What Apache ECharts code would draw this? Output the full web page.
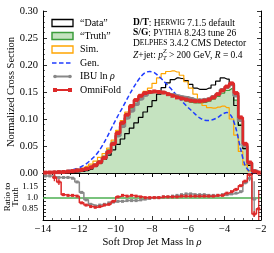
<!DOCTYPE html>
<html><head><meta charset="utf-8">
<script src="https://cdn.jsdelivr.net/npm/echarts@6/dist/echarts.min.js"></script>
<style>html,body{margin:0;padding:0;background:#fff}#c{width:274px;height:253px}</style>
</head><body><div id="c"></div>
<script>
// bin centres of ln rho (bin width 0.25)
const binCenters = [-13.875,-13.625,-13.375,-13.125,-12.875,-12.625,-12.375,-12.125,-11.875,-11.625,-11.375,-11.125,-10.875,-10.625,-10.375,-10.125,-9.875,-9.625,-9.375,-9.125,-8.875,-8.625,-8.375,-8.125,-7.875,-7.625,-7.375,-7.125,-6.875,-6.625,-6.375,-6.125,-5.875,-5.625,-5.375,-5.125,-4.875,-4.625,-4.375,-4.125,-3.875,-3.625,-3.375,-3.125,-2.875,-2.625,-2.375,-2.125];
const truthVals = [0.0005,0.0007,0.0010,0.0013,0.0018,0.0025,0.0034,0.0046,0.0062,0.0085,0.0118,0.0163,0.0225,0.031,0.043,0.057,0.073,0.090,0.106,0.120,0.132,0.141,0.147,0.150,0.151,0.150,0.148,0.145,0.142,0.139,0.136,0.133,0.131,0.130,0.130,0.131,0.133,0.137,0.142,0.148,0.153,0.156,0.135,0.090,0.045,0.015,0.004,0.001];
const dataVals = [0.0003,0.0004,0.0005,0.0007,0.0009,0.0012,0.0016,0.0022,0.003,0.0045,0.007,0.012,0.018,0.025,0.033,0.043,0.053,0.063,0.073,0.083,0.093,0.103,0.113,0.123,0.134,0.146,0.158,0.167,0.173,0.176,0.175,0.171,0.164,0.157,0.155,0.155,0.157,0.163,0.170,0.176,0.174,0.163,0.125,0.088,0.045,0.014,0.003,0.0008];
const simVals = [0.0008,0.001,0.0014,0.0019,0.0026,0.0036,0.005,0.0068,0.0092,0.0124,0.0165,0.022,0.029,0.036,0.046,0.061,0.079,0.097,0.113,0.126,0.137,0.145,0.151,0.157,0.166,0.176,0.184,0.188,0.189,0.187,0.181,0.169,0.157,0.146,0.133,0.125,0.121,0.120,0.122,0.124,0.121,0.100,0.070,0.040,0.015,0.004,0.001,0.0003];
const genVals = [0.0005,0.0008,0.0012,0.0018,0.0027,0.004,0.0058,0.0083,0.012,0.017,0.024,0.032,0.043,0.057,0.073,0.090,0.106,0.121,0.137,0.152,0.166,0.178,0.186,0.188,0.186,0.179,0.171,0.162,0.153,0.143,0.134,0.125,0.117,0.109,0.102,0.098,0.097,0.099,0.103,0.109,0.112,0.105,0.082,0.045,0.014,0.003,0.0008,0.0002];
const ibuVals = [0.0006,0.0009,0.0013,0.0017,0.0023,0.0032,0.0043,0.0056,0.0066,0.0082,0.0107,0.0145,0.0203,0.028,0.040,0.054,0.069,0.086,0.102,0.115,0.127,0.137,0.144,0.149,0.151,0.150,0.149,0.146,0.145,0.143,0.141,0.140,0.138,0.135,0.135,0.136,0.137,0.141,0.146,0.154,0.159,0.164,0.143,0.097,0.050,0.018,0.004,0.001];
const omniVals = [0.0007,0.0009,0.0012,0.0016,0.0019,0.0026,0.0035,0.0047,0.0058,0.0077,0.0104,0.0142,0.0198,0.028,0.039,0.054,0.074,0.093,0.108,0.124,0.135,0.143,0.148,0.150,0.151,0.150,0.149,0.146,0.143,0.140,0.138,0.136,0.134,0.133,0.133,0.134,0.136,0.140,0.146,0.153,0.160,0.166,0.148,0.103,0.054,0.0195,0.0031,0.0007];
// ratio panel
const ratioOmni = [null,null,1.27,1.21,1.04,1.03,1.03,1.02,0.93,0.90,0.88,0.87,0.88,0.90,0.91,0.95,1.01,1.03,1.02,1.03,1.02,1.01,1.00,1.00,1.00,1.00,1.01,1.01,1.01,1.01,1.02,1.02,1.02,1.02,1.02,1.02,1.02,1.02,1.03,1.03,1.06,1.08,1.11,1.16,1.22,1.31,0.78,0.85];
const ratioOmniErr = [0,0,0.05,0.04,0.02,0.012,0.01,0.008,0.006,0.005,0.004,0.004,0.003,0.003,0.003,0.003,0.002,0.002,0.002,0.002,0.002,0.002,0.002,0.002,0.002,0.002,0.002,0.002,0.002,0.002,0.002,0.002,0.002,0.002,0.002,0.002,0.002,0.002,0.002,0.003,0.004,0.005,0.006,0.008,0.012,0.03,0.04,0.25];
const ratioIbu = [1.29,1.29,1.28,1.27,1.27,1.27,1.26,1.21,1.07,0.97,0.91,0.89,0.90,0.91,0.93,0.94,0.95,0.95,0.96,0.96,0.96,0.97,0.98,0.99,1.00,1.00,1.01,1.01,1.02,1.03,1.04,1.05,1.05,1.04,1.04,1.04,1.03,1.03,1.03,1.04,1.04,1.05,1.06,1.08,1.20,1.26,0.98,null];
const ratioIbuErr = [0.01,0.01,0.01,0.01,0.01,0.01,0.01,0.01,0.006,0.005,0.004,0.004,0.003,0.003,0.003,0.003,0.002,0.002,0.002,0.002,0.002,0.002,0.002,0.002,0.002,0.002,0.002,0.002,0.002,0.002,0.002,0.002,0.002,0.002,0.002,0.002,0.002,0.002,0.002,0.003,0.004,0.005,0.006,0.008,0.02,0.04,0.24,0];
const truthErr = [0.04,0.04,0.035,0.03,0.03,0.025,0.02,0.015,0.012,0.01,0.008,0.006,0.005,0.004,0.003,0.003,0.002,0.002,0.002,0.002,0.002,0.002,0.002,0.002,0.002,0.002,0.002,0.002,0.002,0.002,0.002,0.002,0.002,0.002,0.002,0.002,0.002,0.002,0.002,0.002,0.002,0.003,0.003,0.004,0.008,0.03,0.07,0.13];
const xTicks = [-14,-12,-10,-8,-6,-4,-2];
const ratioTickLabels = ['0.85','1.0','1.15'];

const SERIF = '"Liberation Serif", "DejaVu Serif", serif';
const C = {data:'#000', truthLine:'#3c9d3c', truthFill:'#c5e3c0', sim:'#ffa500', gen:'#1f3cff', ibu:'#888888', omni:'#dd2a2a'};
const pairs = (vals) => binCenters.map((x,i)=> [x, vals[i]==null ? '-' : vals[i]]);
const triples = (vals, errs) => binCenters.map((x,i)=> [x, vals[i]==null ? '-' : vals[i], errs[i]]);

function errBar(color){
  return function(params, api){
    const v = api.value(1); if (isNaN(v)) return null;
    const e = api.value(2); const x = api.value(0);
    const p1 = api.coord([x, v+e]), p2 = api.coord([x, v-e]);
    return {type:'line', shape:{x1:p1[0],y1:p1[1],x2:p2[0],y2:p2[1]}, style:{stroke:color, lineWidth:1.3}};
  };
}

const axisLine = {show:true, lineStyle:{color:'#000', width:1}};
const tickIn = {show:true, inside:true, length:4, lineStyle:{color:'#000', width:0.8}};
const minorIn = (n)=>({show:true, splitNumber:n, length:2, lineStyle:{color:'#000', width:0.6}});
const fmtMinus = v => String(v).replace('-', '\u2212');

const chart = echarts.init(document.getElementById('c'), null, {renderer:'canvas'});
const option = {
  animation:false,
  backgroundColor:'#fff',
  grid:[{left:43, top:11, width:218, height:162},{left:43, top:173, width:218, height:47}],
  xAxis:[
    {gridIndex:0, type:'value', min:-14, max:-2, interval:2, position:'bottom', axisLine, axisTick:tickIn, minorTick:minorIn(4), axisLabel:{show:false}, splitLine:{show:false}},
    {gridIndex:0, type:'value', min:-14, max:-2, interval:2, position:'top', axisLine, axisTick:tickIn, minorTick:minorIn(4), axisLabel:{show:false}, splitLine:{show:false}},
    {gridIndex:1, type:'value', min:-14, max:-2, interval:2, position:'bottom', axisLine, axisTick:tickIn, minorTick:minorIn(4),
      axisLabel:{show:true, margin:4, color:'#000', fontFamily:SERIF, fontSize:10.5, formatter: v => xTicks.includes(v) ? fmtMinus(v) : ''}, splitLine:{show:false}},
    {gridIndex:1, type:'value', min:-14, max:-2, interval:2, position:'top', axisLine:{show:true, lineStyle:{color:'#000', width:1.2}}, axisTick:tickIn, minorTick:minorIn(4), axisLabel:{show:false}, splitLine:{show:false}}
  ],
  yAxis:[
    {gridIndex:0, type:'value', min:0, max:0.30, interval:0.05, position:'left', axisLine, axisTick:tickIn, minorTick:minorIn(5),
      axisLabel:{show:true, margin:5, color:'#000', fontFamily:SERIF, fontSize:10.5, formatter: v => v.toFixed(2)}, splitLine:{show:false}},
    {gridIndex:0, type:'value', min:0, max:0.30, interval:0.05, position:'right', axisLine, axisTick:tickIn, minorTick:minorIn(5), axisLabel:{show:false}, splitLine:{show:false}},
    {gridIndex:1, type:'value', min:0.7, max:1.33, interval:0.05, position:'left', axisLine, axisTick:{show:true, inside:true, length:3, lineStyle:{color:'#000', width:0.8}},
      axisLabel:{show:true, margin:5, color:'#000', fontFamily:SERIF, fontSize:9, showMaxLabel:false, showMinLabel:false,
        formatter: v => { const r = (Math.round(v*100)/100); const s = r===1 ? '1.0' : String(r); return ratioTickLabels.includes(s) ? s : ''; }}, splitLine:{show:false}},
    {gridIndex:1, type:'value', min:0.7, max:1.33, interval:0.05, position:'right', axisLine, axisTick:{show:true, inside:true, length:3, lineStyle:{color:'#000', width:0.8}}, axisLabel:{show:false}, splitLine:{show:false}}
  ],
  series:[
    {name:'Truth', type:'line', xAxisIndex:0, yAxisIndex:0, data:pairs(truthVals), step:'middle', symbol:'none', lineStyle:{color:C.truthLine, width:1.3}, areaStyle:{color:C.truthFill, opacity:1}, z:1},
    {name:'Data', type:'line', xAxisIndex:0, yAxisIndex:0, data:pairs(dataVals), step:'middle', symbol:'none', lineStyle:{color:C.data, width:1.2}, z:2},
    {name:'Sim.', type:'line', xAxisIndex:0, yAxisIndex:0, data:pairs(simVals), step:'middle', symbol:'none', lineStyle:{color:C.sim, width:1.2}, z:3},
    {name:'Gen.', type:'line', xAxisIndex:0, yAxisIndex:0, data:pairs(genVals), smooth:0.3, symbol:'none', lineStyle:{color:C.gen, width:1.5, type:[4.5,2.5]}, z:4},
    {name:'IBU', type:'line', xAxisIndex:0, yAxisIndex:0, data:pairs(ibuVals), step:'middle', symbol:'circle', symbolSize:3.5, itemStyle:{color:C.ibu}, lineStyle:{color:C.ibu, width:3}, z:5},
    {name:'OmniFold', type:'line', xAxisIndex:0, yAxisIndex:0, data:pairs(omniVals), step:'middle', symbol:'rect', symbolSize:4, itemStyle:{color:C.omni}, lineStyle:{color:C.omni, width:2.5}, z:6},
    // ratio panel
    {name:'bandLow', type:'line', xAxisIndex:2, yAxisIndex:2, stack:'band', data:binCenters.map((x,i)=>[x, 1-truthErr[i]]), symbol:'none', lineStyle:{opacity:0}, z:1},
    {name:'band', type:'line', xAxisIndex:2, yAxisIndex:2, stack:'band', data:binCenters.map((x,i)=>[x, 2*truthErr[i]]), symbol:'none', lineStyle:{opacity:0}, areaStyle:{color:C.truthFill, opacity:1}, z:1,
      markLine:{silent:true, symbol:'none', label:{show:false}, data:[{yAxis:1}], lineStyle:{color:'#4caf50', width:1.6, type:'solid'}}},
    {name:'IBUratio', type:'line', xAxisIndex:2, yAxisIndex:2, data:pairs(ratioIbu), step:'middle', symbol:'rect', symbolSize:3, itemStyle:{color:C.ibu}, lineStyle:{color:C.ibu, width:1.5}, z:5},
    {name:'IBUerr', type:'custom', xAxisIndex:2, yAxisIndex:2, data:triples(ratioIbu, ratioIbuErr), renderItem:errBar(C.ibu), clip:true, z:5},
    {name:'OmniRatio', type:'line', xAxisIndex:2, yAxisIndex:2, data:pairs(ratioOmni), step:'middle', symbol:'rect', symbolSize:3, itemStyle:{color:C.omni}, lineStyle:{color:C.omni, width:1.5}, z:6},
    {name:'OmniErr', type:'custom', xAxisIndex:2, yAxisIndex:2, data:triples(ratioOmni, ratioOmniErr), renderItem:errBar(C.omni), clip:true, z:6}
  ],
  graphic:[
    // axis titles
    {type:'text', x:11, y:92, rotation:Math.PI/2, style:{text:'Normalized Cross Section', font:'10.5px '+SERIF, fill:'#000', align:'center', verticalAlign:'middle'}},
    {type:'text', x:12, y:197, rotation:Math.PI/2, style:{text:'Ratio to\nTruth', font:'9px '+SERIF, lineHeight:8, fill:'#000', align:'center', verticalAlign:'middle'}},
    {type:'text', x:152, y:242, style:{text:'{n|Soft Drop Jet Mass ln }{i|\u03c1}', align:'center', verticalAlign:'middle',
      rich:{n:{fontFamily:SERIF, fontSize:10.5, fill:'#000'}, i:{fontFamily:SERIF, fontSize:10.5, fontStyle:'italic', fill:'#000'}}}},
    // legend
    {type:'rect', shape:{x:52, y:19.5, width:21, height:7}, style:{fill:'none', stroke:'#000', lineWidth:1.3}},
    {type:'rect', shape:{x:52, y:32.5, width:21, height:7}, style:{fill:C.truthFill, stroke:C.truthLine, lineWidth:1.5}},
    {type:'rect', shape:{x:52, y:46, width:21, height:7}, style:{fill:'none', stroke:C.sim, lineWidth:1.3}},
    {type:'line', shape:{x1:52, y1:63, x2:73, y2:63}, style:{stroke:C.gen, lineWidth:1.5, lineDash:[4.5,2.5]}},
    {type:'line', shape:{x1:54, y1:76.5, x2:71, y2:76.5}, style:{stroke:C.ibu, lineWidth:2}},
    {type:'circle', shape:{cx:55, cy:76.5, r:1.8}, style:{fill:C.ibu}},
    {type:'circle', shape:{cx:70, cy:76.5, r:1.8}, style:{fill:C.ibu}},
    {type:'line', shape:{x1:54, y1:90, x2:71, y2:90}, style:{stroke:C.omni, lineWidth:2}},
    {type:'rect', shape:{x:53, y:88, width:4, height:4}, style:{fill:C.omni}},
    {type:'rect', shape:{x:68, y:88, width:4, height:4}, style:{fill:C.omni}},
    {type:'text', x:80, y:23, style:{text:'\u201cData\u201d', font:'10px '+SERIF, fill:'#000', verticalAlign:'middle'}},
    {type:'text', x:80, y:36, style:{text:'\u201cTruth\u201d', font:'10px '+SERIF, fill:'#000', verticalAlign:'middle'}},
    {type:'text', x:80, y:49.5, style:{text:'Sim.', font:'10px '+SERIF, fill:'#000', verticalAlign:'middle'}},
    {type:'text', x:80, y:63, style:{text:'Gen.', font:'10px '+SERIF, fill:'#000', verticalAlign:'middle'}},
    {type:'text', x:80, y:76.5, style:{text:'{n|IBU ln }{i|\u03c1}', verticalAlign:'middle', rich:{n:{fontFamily:SERIF, fontSize:10, fill:'#000'}, i:{fontFamily:SERIF, fontSize:10, fontStyle:'italic', fill:'#000'}}}},
    {type:'text', x:80, y:90, style:{text:'OmniFold', font:'10px '+SERIF, fill:'#000', verticalAlign:'middle'}},
    // annotation
    {type:'text', x:133, y:23, style:{text:'{b|D/T}{n|: H}{s|ERWIG}{n| 7.1.5 default}', verticalAlign:'middle',
      rich:{b:{fontFamily:SERIF, fontSize:9.5, fontWeight:'bold', fill:'#000'}, n:{fontFamily:SERIF, fontSize:9.5, fill:'#000'}, s:{fontFamily:SERIF, fontSize:7.5, fill:'#000'}}}},
    {type:'text', x:133, y:33, style:{text:'{b|S/G}{n|: P}{s|YTHIA}{n| 8.243 tune 26}', verticalAlign:'middle',
      rich:{b:{fontFamily:SERIF, fontSize:9.5, fontWeight:'bold', fill:'#000'}, n:{fontFamily:SERIF, fontSize:9.5, fill:'#000'}, s:{fontFamily:SERIF, fontSize:7.5, fill:'#000'}}}},
    {type:'text', x:133, y:43, style:{text:'{n|D}{s|ELPHES}{n| 3.4.2 CMS Detector}', verticalAlign:'middle',
      rich:{n:{fontFamily:SERIF, fontSize:9.5, fill:'#000'}, s:{fontFamily:SERIF, fontSize:7.5, fill:'#000'}}}},
    {type:'text', x:133, y:55, style:{text:'{i|Z}{n|+jet: }{i|p}{sub|T}{sup|Z}{n| > 200 GeV, }{i|R}{n| = 0.4}', verticalAlign:'middle',
      rich:{n:{fontFamily:SERIF, fontSize:9.5, fill:'#000', lineHeight:14}, i:{fontFamily:SERIF, fontSize:9.5, fontStyle:'italic', fill:'#000', lineHeight:14},
        sub:{fontFamily:SERIF, fontSize:6.5, fontStyle:'italic', fill:'#000', verticalAlign:'bottom', width:0, lineHeight:9},
        sup:{fontFamily:SERIF, fontSize:6.5, fontStyle:'italic', fill:'#000', verticalAlign:'top', lineHeight:9}}}}
  ]
};
chart.setOption(option);
</script>
</body></html>
